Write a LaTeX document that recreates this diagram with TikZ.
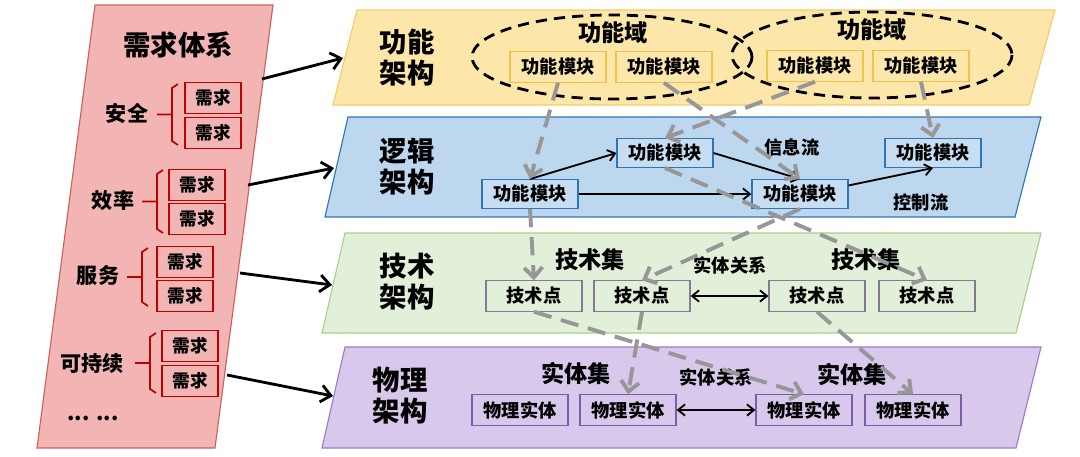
\documentclass[tikz,border=0pt]{standalone}
\usepackage{fontspec}
\setmainfont{Noto Sans CJK SC}
\usepackage{tikz}
\usetikzlibrary{arrows.meta}

\definecolor{reqfill}{HTML}{F3B4B4}
\definecolor{reqline}{HTML}{C9625F}
\definecolor{reqdark}{HTML}{C00000}
\definecolor{funfill}{HTML}{FCE6A9}
\definecolor{funline}{HTML}{F2CC66}
\definecolor{funbox}{HTML}{EFC24A}
\definecolor{logfill}{HTML}{BDD7EE}
\definecolor{logline}{HTML}{2E75B6}
\definecolor{tecfill}{HTML}{E2EFD9}
\definecolor{tecline}{HTML}{A9D18E}
\definecolor{tecbox}{HTML}{857A96}
\definecolor{phyfill}{HTML}{D8C9EC}
\definecolor{phyline}{HTML}{9B7BCB}
\definecolor{phybox}{HTML}{7B5EA7}
\definecolor{flow}{HTML}{979797}

\begin{document}
\begin{tikzpicture}[x=0.025cm, y=-0.025cm, thick,
  lbl/.style={font=\fontsize{13}{14}\selectfont\bfseries},
  head/.style={font=\fontsize{16.5}{17}\selectfont\bfseries},
  grp/.style={font=\fontsize{15}{16}\selectfont\bfseries},
  layer/.style={font=\fontsize{19.5}{22}\selectfont\bfseries, align=center},
  mod/.style={draw, line width=0.8pt, minimum width=2.4cm, minimum height=0.76cm, inner sep=0pt, lbl},
  req/.style={draw=reqdark, line width=0.8pt, minimum width=1.4cm, minimum height=0.78cm, inner sep=0pt, font=\fontsize{12.5}{13}\selectfont\bfseries},
  link/.style={black, line width=1.3pt, -{Straight Barb[length=5pt,width=8pt]}},
  both/.style={black, line width=1.3pt, {Straight Barb[length=5pt,width=8pt]}-{Straight Barb[length=5pt,width=8pt]}},
  map/.style={flow, line width=2.8pt, dash pattern=on 13pt off 7pt, -{Straight Barb[length=7pt,width=13pt]}},
  feed/.style={black, line width=2pt, -{Straight Barb[length=7pt,width=12pt]}},
  fieldring/.style={line width=2pt, dash pattern=on 8pt off 5pt}
]
  \useasboundingbox (0,0) rectangle (1080,456);

  % layers
  \filldraw[fill=reqfill, draw=reqline, line width=0.8pt] (95,5) -- (273,5) -- (215,448) -- (37,448) -- cycle;
  \filldraw[fill=funfill, draw=funline, line width=0.8pt] (357,10) -- (1055,10) -- (1029,105) -- (333,105) -- cycle;
  \filldraw[fill=logfill, draw=logline, line width=0.8pt] (348,117) -- (1041,117) -- (1015,217) -- (325,217) -- cycle;
  \filldraw[fill=tecfill, draw=tecline, line width=0.8pt] (345,233) -- (1041,233) -- (1016,333) -- (322,333) -- cycle;
  \filldraw[fill=phyfill, draw=phyline, line width=0.8pt] (345,347) -- (1041,347) -- (1016,448) -- (322,448) -- cycle;

  % requirements
  \node[font=\fontsize{19.5}{20}\selectfont\bfseries] (sys) at (178,45) {需求体系};
  \node[grp] (safe) at (127,113) {安全};
  \node[grp] (eff) at (113,200) {效率};
  \node[grp] (serv) at (98,275) {服务};
  \node[grp] (sust) at (92,363) {可持续};
  \node[grp] (more) at (93,418) {... ...};

  \node[req] (r1) at (213,98) {需求};
  \node[req] (r2) at (213,133) {需求};
  \node[req] (r3) at (197,185) {需求};
  \node[req] (r4) at (197,219) {需求};
  \node[req] (r5) at (185,262) {需求};
  \node[req] (r6) at (185,296) {需求};
  \node[req] (r7) at (190,346) {需求};
  \node[req] (r8) at (190,381) {需求};

  \foreach \xb/\yt/\yb in {172/84/145, 157/170/233, 142/248/306, 150/333/393}
    \draw[reqdark, line width=1.2pt] (\xb+6,\yt) -- (\xb,\yt+4) -- (\xb,\yb-4) -- (\xb+6,\yb)
      (\xb-15,{(\yt+\yb)/2}) -- (\xb,{(\yt+\yb)/2});

  % layer titles
  \node[layer] (fun) at (407,58) {功能\\架构};
  \node[layer] (log) at (407,167) {逻辑\\架构};
  \node[layer] (tec) at (407,282) {技术\\架构};
  \node[layer] (phy) at (400,396) {物理\\架构};

  \coordinate (o1) at (262,79);
  \coordinate (o2) at (248,185);
  \coordinate (o3) at (240,273);
  \coordinate (o4) at (227,375);
  \coordinate (i1) at (343,58);
  \coordinate (i2) at (334,168);
  \coordinate (i3) at (332,285);
  \coordinate (i4) at (333,396);
  \draw[feed] (o1) -- (i1);
  \draw[feed] (o2) -- (i2);
  \draw[feed] (o3) -- (i3);
  \draw[feed] (o4) -- (i4);

  % function layer
  \draw[fieldring] (612,57) ellipse [x radius=140, y radius=42];
  \draw[fieldring] (872,55) ellipse [x radius=140, y radius=43];
  \node[head] (d1) at (613,33) {功能域};
  \node[head] (d2) at (872,30) {功能域};
  \node[mod, draw=funbox, fill=funfill] (yb1) at (558,67) {功能模块};
  \node[mod, draw=funbox, fill=funfill] (yb2) at (664,67) {功能模块};
  \node[mod, draw=funbox, fill=funfill] (yb3) at (815,66) {功能模块};
  \node[mod, draw=funbox, fill=funfill] (yb4) at (921,66) {功能模块};

  % logic layer
  \node[mod, draw=logline, fill=logfill!85!white, minimum height=0.72cm] (lb1) at (530,194) {功能模块};
  \node[mod, draw=logline, fill=logfill!85!white, minimum height=0.72cm] (lb2) at (665,153) {功能模块};
  \node[mod, draw=logline, fill=logfill!85!white, minimum height=0.72cm] (lb3) at (800,194) {功能模块};
  \node[mod, draw=logline, fill=logfill!85!white, minimum height=0.72cm] (lb4) at (933,153) {功能模块};
  \node[lbl] (info) at (792,147) {信息流};
  \node[lbl] (ctrl) at (921,202) {控制流};

  \draw[link] (lb1.north) -- (lb2.west);
  \draw[link] (lb1.east) -- (lb3.west);
  \draw[link] (lb2.east) -- (lb3.north);
  \draw[link] (lb3.10) -- (lb4.south);

  % technology layer
  \node[head] (s1) at (590,260) {技术集};
  \node[head] (s2) at (866,260) {技术集};
  \node[lbl] (rel1) at (730,265) {实体关系};
  \node[mod, draw=tecbox, fill=tecfill] (tb1) at (534,296) {技术点};
  \node[mod, draw=tecbox, fill=tecfill] (tb2) at (642,296) {技术点};
  \node[mod, draw=tecbox, fill=tecfill] (tb3) at (817,296) {技术点};
  \node[mod, draw=tecbox, fill=tecfill] (tb4) at (927,296) {技术点};
  \draw[both] (tb2.east) -- (tb3.west);

  % physical layer
  \node[head] (e1) at (576,373) {实体集};
  \node[head] (e2) at (852,374) {实体集};
  \node[lbl] (rel2) at (716,377) {实体关系};
  \node[mod, draw=phybox, fill=phyfill] (pb1) at (520,410) {物理实体};
  \node[mod, draw=phybox, fill=phyfill] (pb2) at (628,410) {物理实体};
  \node[mod, draw=phybox, fill=phyfill] (pb3) at (804,410) {物理实体};
  \node[mod, draw=phybox, fill=phyfill] (pb4) at (913,410) {物理实体};
  \draw[both] (pb2.east) -- (pb3.west);

  % mappings
  \draw[map] (yb1.south) -- (lb1.north);
  \draw[map] (yb2.south) -- (lb3.north);
  \draw[map] (yb3.south) -- (lb2.north);
  \draw[map] (yb4.south) -- (lb4.north);
  \draw[map] (lb1.south) -- (tb1.north);
  \draw[map] (lb2.south) -- (tb4.north);
  \draw[map] (lb3.south) -- (tb2.north);
  \draw[map] (tb1.south) -- (pb3.north);
  \draw[map] (tb2.south) -- (pb2.north);
  \draw[map] (tb3.south) -- (pb4.north);

\end{tikzpicture}
\end{document}
